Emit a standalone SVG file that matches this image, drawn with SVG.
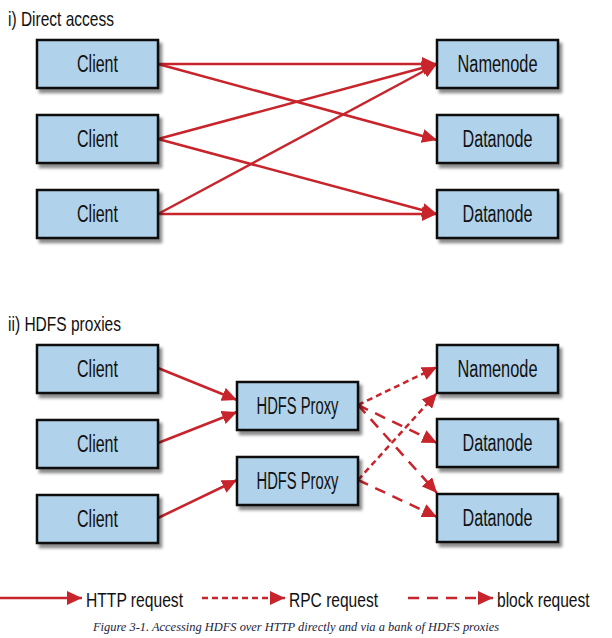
<svg xmlns="http://www.w3.org/2000/svg" width="612" height="638" viewBox="0 0 612 638">
<style>
.box{fill:#b0d2ea;stroke:#111;stroke-width:2.5;filter:url(#sh)}
.lbl{font-family:"Liberation Sans",Arial,sans-serif;font-size:23px;fill:#111;text-anchor:middle}
.ttl{font-family:"Liberation Sans",Arial,sans-serif;font-size:21px;fill:#111}
.cap{font-family:"Liberation Serif","Times New Roman",serif;font-style:italic;font-size:11.5px;fill:#1c1c3c}
.c{fill:none;stroke:#c8242b;stroke-width:2.5;marker-end:url(#ah)}
.rpc{stroke-dasharray:6 4}
.blk{stroke-dasharray:11 8}
</style>
<defs>
<filter id="sh" x="-10%" y="-10%" width="130%" height="140%">
<feDropShadow dx="3" dy="4" stdDeviation="1.8" flood-color="#000" flood-opacity="0.45"/>
</filter>
<marker id="ah" markerUnits="userSpaceOnUse" markerWidth="16" markerHeight="14" refX="15" refY="7" orient="auto">
<path d="M0,0 L15,7 L0,14 z" fill="#c8242b"/>
</marker>
</defs>

<text class="ttl" x="8" y="26" textLength="106" lengthAdjust="spacingAndGlyphs">i) Direct access</text>
<text class="ttl" x="8" y="331" textLength="113" lengthAdjust="spacingAndGlyphs">ii) HDFS proxies</text>

<g id="connectors">
<path class="c" d="M158,64 L437,64"/>
<path class="c" d="M158,64 L437,140"/>
<path class="c" d="M158,139 L437,64"/>
<path class="c" d="M158,139 L437,214"/>
<path class="c" d="M158,214 L437,64"/>
<path class="c" d="M158,214 L437,214"/>
<path class="c" d="M158,368 L237,400"/>
<path class="c" d="M158,443 L237,412"/>
<path class="c" d="M158,518 L237,480"/>
<path class="c rpc" d="M358,405 L437,367"/>
<path class="c blk" d="M358,405 L437,443"/>
<path class="c blk" d="M358,405 L437,493"/>
<path class="c rpc" d="M358,480 L437,393"/>
<path class="c blk" d="M358,480 L437,517"/>
</g>

<g id="client1"><rect class="box" x="37" y="40" width="121" height="48"/><text class="lbl" x="97.5" y="72" textLength="41" lengthAdjust="spacingAndGlyphs">Client</text></g>
<g id="client2"><rect class="box" x="37" y="115" width="121" height="48"/><text class="lbl" x="97.5" y="147" textLength="41" lengthAdjust="spacingAndGlyphs">Client</text></g>
<g id="client3"><rect class="box" x="37" y="190" width="121" height="48"/><text class="lbl" x="97.5" y="222" textLength="41" lengthAdjust="spacingAndGlyphs">Client</text></g>
<g id="namenode1"><rect class="box" x="437" y="40" width="121" height="48"/><text class="lbl" x="497.5" y="72" textLength="80" lengthAdjust="spacingAndGlyphs">Namenode</text></g>
<g id="datanode1"><rect class="box" x="437" y="115" width="121" height="48"/><text class="lbl" x="497.5" y="147" textLength="70" lengthAdjust="spacingAndGlyphs">Datanode</text></g>
<g id="datanode2"><rect class="box" x="437" y="190" width="121" height="48"/><text class="lbl" x="497.5" y="222" textLength="70" lengthAdjust="spacingAndGlyphs">Datanode</text></g>

<g id="client4"><rect class="box" x="37" y="345" width="121" height="48"/><text class="lbl" x="97.5" y="377" textLength="41" lengthAdjust="spacingAndGlyphs">Client</text></g>
<g id="client5"><rect class="box" x="37" y="420" width="121" height="48"/><text class="lbl" x="97.5" y="452" textLength="41" lengthAdjust="spacingAndGlyphs">Client</text></g>
<g id="client6"><rect class="box" x="37" y="495" width="121" height="48"/><text class="lbl" x="97.5" y="527" textLength="41" lengthAdjust="spacingAndGlyphs">Client</text></g>
<g id="proxy1"><rect class="box" x="237" y="382" width="121" height="48"/><text class="lbl" x="297.5" y="414" textLength="82" lengthAdjust="spacingAndGlyphs">HDFS Proxy</text></g>
<g id="proxy2"><rect class="box" x="237" y="457" width="121" height="48"/><text class="lbl" x="297.5" y="489" textLength="82" lengthAdjust="spacingAndGlyphs">HDFS Proxy</text></g>
<g id="namenode2"><rect class="box" x="437" y="345" width="121" height="48"/><text class="lbl" x="497.5" y="377" textLength="80" lengthAdjust="spacingAndGlyphs">Namenode</text></g>
<g id="datanode3"><rect class="box" x="437" y="419" width="121" height="48"/><text class="lbl" x="497.5" y="451" textLength="70" lengthAdjust="spacingAndGlyphs">Datanode</text></g>
<g id="datanode4"><rect class="box" x="437" y="494" width="121" height="48"/><text class="lbl" x="497.5" y="526" textLength="70" lengthAdjust="spacingAndGlyphs">Datanode</text></g>

<g id="legend">
<path class="c" d="M0,598 L82,598"/>
<text class="ttl" x="86" y="607" font-size="22" textLength="97" lengthAdjust="spacingAndGlyphs">HTTP request</text>
<path class="c rpc" d="M202,598 L285,598"/>
<text class="ttl" x="289" y="607" font-size="22" textLength="89" lengthAdjust="spacingAndGlyphs">RPC request</text>
<path class="c blk" d="M408,598 L493,598"/>
<text class="ttl" transform="translate(497,607) scale(0.742,1)" x="0" y="0" font-size="22">block request</text>
</g>

<text class="cap" x="93" y="631" textLength="406" lengthAdjust="spacingAndGlyphs">Figure 3-1. Accessing HDFS over HTTP directly and via a bank of HDFS proxies</text>
</svg>
